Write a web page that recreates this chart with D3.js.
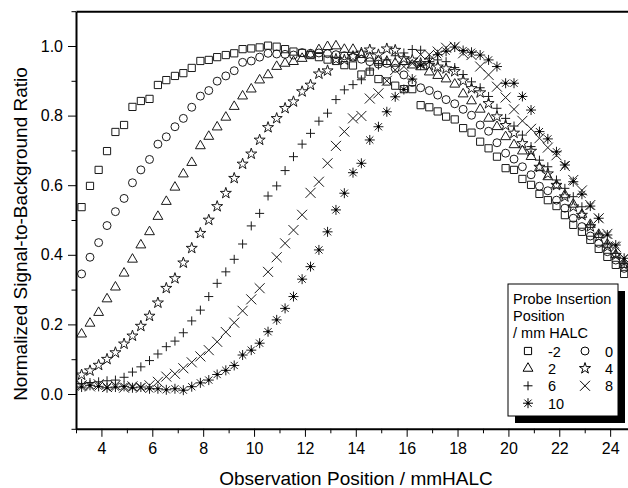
<!DOCTYPE html>
<html>
<head>
<meta charset="utf-8">
<script src="https://cdn.jsdelivr.net/npm/d3@7"></script>
<style>
  body { margin: 0; background: #fff; }
  svg { display: block; font-family: Arial, "Liberation Sans", sans-serif; }
</style>
</head>
<body>
<svg id="chart" width="628" height="488"></svg>
<script>
// Chart size
const width = 628, height = 488;

// Observation positions (mm HALC), shared by every series
const obsPos = [3.22, 3.55, 3.89, 4.22, 4.55, 4.89, 5.22, 5.55, 5.89, 6.22,
    6.55, 6.89, 7.22, 7.55, 7.89, 8.22, 8.55, 8.89, 9.22, 9.55,
    9.89, 10.22, 10.55, 10.89, 11.22, 11.55, 11.89, 12.22, 12.55, 12.89,
    13.22, 13.55, 13.89, 14.22, 14.55, 14.89, 15.22, 15.55, 15.89, 16.22,
    16.55, 16.89, 17.22, 17.55, 17.89, 18.22, 18.55, 18.89, 19.22, 19.55,
    19.89, 20.22, 20.55, 20.89, 21.22, 21.55, 21.89, 22.22, 22.55, 22.89,
    23.22, 23.55, 23.89, 24.22, 24.55];

// Normalized signal-to-background ratio, one list per probe insertion position
const sbrM2 = [0.537, 0.598, 0.644, 0.698, 0.753, 0.773, 0.825, 0.842, 0.848, 0.888,
    0.902, 0.914, 0.922, 0.937, 0.957, 0.960, 0.968, 0.974, 0.979, 0.991,
    0.993, 0.996, 1.001, 0.998, 0.991, 0.984, 0.980, 0.974, 0.968, 0.961,
    0.957, 0.945, 0.944, 0.918, 0.926, 0.905, 0.898, 0.886, 0.876, 0.876,
    0.830, 0.824, 0.812, 0.797, 0.789, 0.764, 0.751, 0.725, 0.706, 0.682,
    0.649, 0.644, 0.618, 0.601, 0.575, 0.557, 0.540, 0.514, 0.486, 0.466,
    0.443, 0.417, 0.394, 0.371, 0.345];
const sbr0 = [0.345, 0.393, 0.435, 0.484, 0.524, 0.562, 0.607, 0.644, 0.674, 0.718,
    0.739, 0.768, 0.792, 0.824, 0.856, 0.872, 0.899, 0.914, 0.929, 0.953,
    0.957, 0.968, 0.979, 0.977, 0.976, 0.974, 0.981, 0.979, 0.980, 0.978,
    0.975, 0.972, 0.968, 0.962, 0.955, 0.948, 0.950, 0.936, 0.917, 0.895,
    0.880, 0.872, 0.859, 0.846, 0.834, 0.818, 0.801, 0.773, 0.755, 0.722,
    0.692, 0.675, 0.653, 0.630, 0.597, 0.584, 0.557, 0.534, 0.505, 0.481,
    0.454, 0.433, 0.409, 0.385, 0.361];
const sbr2 = [0.172, 0.203, 0.234, 0.273, 0.307, 0.347, 0.387, 0.428, 0.466, 0.510,
    0.553, 0.594, 0.632, 0.665, 0.713, 0.740, 0.767, 0.795, 0.826, 0.856,
    0.876, 0.902, 0.917, 0.941, 0.950, 0.955, 0.964, 0.974, 0.989, 0.998,
    1.000, 0.990, 0.990, 0.975, 0.965, 0.958, 0.955, 0.950, 0.955, 0.945,
    0.940, 0.925, 0.915, 0.905, 0.890, 0.862, 0.842, 0.818, 0.792, 0.768,
    0.739, 0.716, 0.698, 0.682, 0.650, 0.624, 0.600, 0.572, 0.545, 0.516,
    0.487, 0.458, 0.430, 0.400, 0.372];
const sbr4 = [0.055, 0.067, 0.083, 0.100, 0.119, 0.144, 0.167, 0.195, 0.224, 0.262,
    0.304, 0.332, 0.377, 0.419, 0.462, 0.500, 0.539, 0.577, 0.620, 0.661,
    0.690, 0.730, 0.766, 0.792, 0.821, 0.840, 0.869, 0.888, 0.920, 0.929,
    0.962, 0.960, 0.970, 0.980, 0.989, 0.975, 0.992, 0.988, 0.964, 0.960,
    0.950, 0.945, 0.940, 0.935, 0.927, 0.900, 0.878, 0.866, 0.835, 0.797,
    0.772, 0.750, 0.720, 0.698, 0.652, 0.633, 0.600, 0.567, 0.538, 0.514,
    0.481, 0.452, 0.423, 0.399, 0.371];
const sbr6 = [0.030, 0.033, 0.035, 0.038, 0.040, 0.048, 0.063, 0.078, 0.096, 0.115,
    0.136, 0.152, 0.176, 0.210, 0.241, 0.280, 0.318, 0.351, 0.387, 0.431,
    0.483, 0.519, 0.569, 0.598, 0.642, 0.682, 0.718, 0.749, 0.784, 0.807,
    0.846, 0.874, 0.889, 0.903, 0.931, 0.945, 0.960, 0.972, 0.980, 0.990,
    0.988, 0.965, 0.960, 0.955, 0.938, 0.918, 0.897, 0.880, 0.855, 0.821,
    0.792, 0.770, 0.744, 0.711, 0.672, 0.653, 0.615, 0.591, 0.567, 0.538,
    0.486, 0.462, 0.433, 0.404, 0.375];
const sbr8 = [0.025, 0.022, 0.028, 0.020, 0.025, 0.018, 0.022, 0.018, 0.025, 0.035,
    0.050, 0.058, 0.074, 0.091, 0.108, 0.126, 0.150, 0.178, 0.205, 0.239,
    0.272, 0.304, 0.351, 0.393, 0.433, 0.471, 0.515, 0.578, 0.610, 0.663,
    0.713, 0.754, 0.792, 0.799, 0.849, 0.864, 0.900, 0.931, 0.941, 0.950,
    0.975, 0.975, 0.984, 0.995, 0.998, 0.979, 0.974, 0.941, 0.917, 0.883,
    0.852, 0.818, 0.785, 0.762, 0.735, 0.708, 0.686, 0.655, 0.615, 0.585,
    0.543, 0.505, 0.460, 0.423, 0.390];
const sbr10 = [0.020, 0.025, 0.022, 0.018, 0.020, 0.022, 0.018, 0.020, 0.015, 0.015,
    0.012, 0.015, 0.011, 0.021, 0.032, 0.040, 0.056, 0.068, 0.082, 0.112,
    0.126, 0.146, 0.179, 0.213, 0.246, 0.280, 0.330, 0.366, 0.414, 0.466,
    0.529, 0.577, 0.636, 0.663, 0.730, 0.768, 0.811, 0.854, 0.875, 0.905,
    0.945, 0.955, 0.975, 0.985, 0.997, 0.987, 0.982, 0.974, 0.960, 0.941,
    0.893, 0.893, 0.855, 0.816, 0.754, 0.733, 0.696, 0.658, 0.610, 0.574,
    0.540, 0.505, 0.457, 0.428, 0.390];

const probeLabels = ["-2", "0", "2", "4", "6", "8", "10"];
const markerTypes = ["square", "circle", "triangle", "star", "plus", "cross", "asterisk"];
const seriesValues = [sbrM2, sbr0, sbr2, sbr4, sbr6, sbr8, sbr10];

// Tick values
const xMajorTicks = [4, 6, 8, 10, 12, 14, 16, 18, 20, 22, 24];
const xMinorTicks = [3, 5, 7, 9, 11, 13, 15, 17, 19, 21, 23];
const yMajorTicks = [0.0, 0.2, 0.4, 0.6, 0.8, 1.0];
const yMinorTicks = [-0.1, 0.1, 0.3, 0.5, 0.7, 0.9, 1.1];

// Build a table the marks can bind to
const series = probeLabels.map((lab, k) => ({
    label: lab,
    marker: markerTypes[k],
    points: obsPos.map((p, i) => ({x: p, y: seriesValues[k][i]}))
}));

// Scales
const x = d3.scaleLinear().domain([3, 24.8]).range([76, 630.5]);
const y = d3.scaleLinear().domain([-0.1, 1.1]).range([428.8, 11.2]);

// Marker path generators (open markers)
function markerPath(type) {
    switch (type) {
        case "square": return d3.symbol(d3.symbolSquare, 52)();
        case "circle": return d3.symbol(d3.symbolCircle, 50)();
        case "triangle": return d3.symbol(d3.symbolTriangle, 42)();
        case "star": return d3.symbol(d3.symbolStar, 38)();
        case "plus": return "M-4.5,0H4.5M0,-4.5V4.5";
        case "cross": return "M-5,-5L5,5M-5,5L5,-5";
        case "asterisk": return "M-5,0H5M0,-5V5M-3.6,-3.6L3.6,3.6M-3.6,3.6L3.6,-3.6";
    }
}

const svg = d3.select("#chart");

// Data markers
const plot = svg.append("g");
series.forEach(s => {
    const g = plot.append("g").attr("class", "series");
    g.selectAll("path")
        .data(s.points)
        .join("path")
        .attr("transform", d => `translate(${x(d.x)},${y(d.y)})`)
        .attr("d", markerPath(s.marker))
        .attr("fill", "none")
        .attr("stroke", "#1a1a1a")
        .attr("stroke-width", 1);
    if (s.marker === "asterisk") {
        g.selectAll("circle")
            .data(s.points)
            .join("circle")
            .attr("cx", d => x(d.x))
            .attr("cy", d => y(d.y))
            .attr("r", 1.4)
            .attr("fill", "#000");
    }
});

// X axis
svg.append("g")
    .attr("transform", `translate(0,${y(-0.1)})`)
    .call(d3.axisBottom(x).tickValues(xMinorTicks).tickSize(4.5).tickFormat("").tickSizeOuter(0))
    .call(g => g.select(".domain").remove());
const xAxis = svg.append("g")
    .attr("transform", `translate(0,${y(-0.1)})`)
    .call(d3.axisBottom(x).tickValues(xMajorTicks).tickSize(8).tickPadding(6).tickSizeOuter(0)
        .tickFormat(d3.format("d")));
xAxis.select(".domain").attr("stroke-width", 2);
xAxis.selectAll("text").attr("font-size", 16).attr("fill", "#000")
    .attr("font-family", "Arial, 'Liberation Sans', sans-serif");

// Y axis
svg.append("g")
    .attr("transform", `translate(${x(3)},0)`)
    .call(d3.axisLeft(y).tickValues(yMinorTicks).tickSize(4.5).tickFormat("").tickSizeOuter(0))
    .call(g => g.select(".domain").remove());
const yAxis = svg.append("g")
    .attr("transform", `translate(${x(3)},0)`)
    .call(d3.axisLeft(y).tickValues(yMajorTicks).tickSize(8).tickPadding(5).tickSizeOuter(0)
        .tickFormat(d3.format(".1f")));
yAxis.select(".domain").attr("stroke-width", 2);
yAxis.selectAll("text").attr("font-size", 16).attr("fill", "#000")
    .attr("font-family", "Arial, 'Liberation Sans', sans-serif");

// Top frame line
svg.append("g")
    .attr("transform", `translate(0,${y(1.1)})`)
    .call(d3.axisTop(x).tickValues([]).tickSizeOuter(0))
    .select(".domain").attr("stroke-width", 2);

// Axis titles
svg.append("text")
    .attr("x", 356)
    .attr("y", 485)
    .attr("text-anchor", "middle")
    .attr("font-size", 19)
    .text("Observation Position / mmHALC");
svg.append("text")
    .attr("transform", "translate(27,234) rotate(-90)")
    .attr("text-anchor", "middle")
    .attr("font-size", 19)
    .text("Normalized Signal-to-Background Ratio");

// Legend
const legend = svg.append("g").attr("transform", "translate(508,284)");
legend.append("rect")
    .attr("x", 7).attr("y", 7)
    .attr("width", 110).attr("height", 132)
    .attr("fill", "#000");
legend.append("rect")
    .attr("width", 110).attr("height", 132)
    .attr("fill", "#fff")
    .attr("stroke", "#000")
    .attr("stroke-width", 1);
["Probe Insertion", "Position", "/ mm HALC"].forEach((t, i) => {
    legend.append("text")
        .attr("x", 5)
        .attr("y", 19.5 + i * 17.3)
        .attr("font-size", 14.5)
        .text(t);
});
const legendItems = legend.selectAll(".legend-item")
    .data(series)
    .join("g")
    .attr("class", "legend-item")
    .attr("transform", (d, i) => `translate(${(i % 2) * 57}, ${67 + Math.floor(i / 2) * 17.4})`);
legendItems.append("path")
    .attr("transform", "translate(20,0)")
    .attr("d", d => markerPath(d.marker))
    .attr("fill", "none")
    .attr("stroke", "#000")
    .attr("stroke-width", 1);
legendItems.filter(d => d.marker === "asterisk")
    .append("circle")
    .attr("cx", 20).attr("cy", 0).attr("r", 1.4).attr("fill", "#000");
legendItems.append("text")
    .attr("x", 40)
    .attr("y", 5.5)
    .attr("font-size", 14.5)
    .text(d => d.label);
</script>
</body>
</html>
